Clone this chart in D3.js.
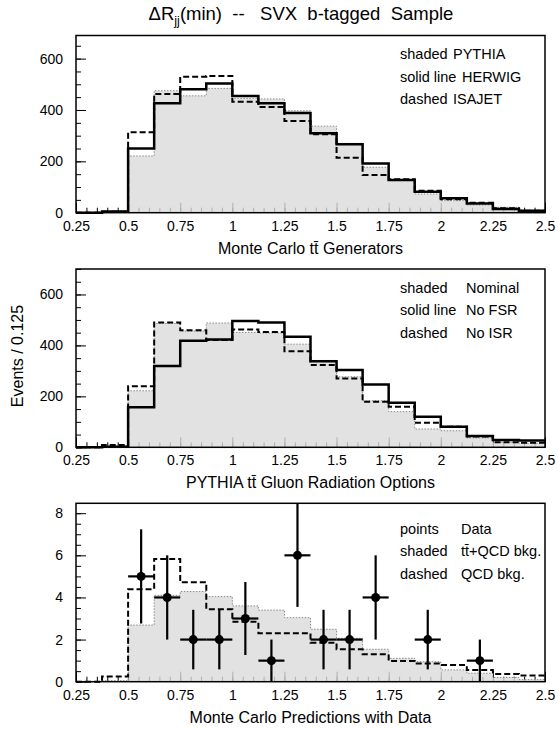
<!DOCTYPE html>
<html><head><meta charset="utf-8">
<script src="https://cdn.jsdelivr.net/npm/d3@7"></script>
<style>
body{margin:0;background:#fff}
svg{display:block}
text{font-family:"Liberation Sans",Arial,Helvetica,sans-serif;fill:#000}
</style>
</head><body>
<svg id="c" width="558" height="729"></svg>
<script>
// ---------- data ----------
const binEdges = [0.25,0.375,0.5,0.625,0.75,0.875,1.0,1.125,1.25,1.375,1.5,1.625,1.75,1.875,2.0,2.125,2.25,2.375,2.5];

// top panel: generators
const pythia = [0, 3, 221, 475, 455, 484, 445, 443, 397, 337, 270, 177, 127, 73, 47, 30, 21, 8];
const herwig = [0, 5, 250, 426, 481, 503, 454, 426, 388, 309, 267, 192, 127, 82, 56, 36, 14, 8];
const isajet = [0, 4, 313, 462, 529, 532, 432, 412, 357, 305, 214, 147, 130, 85, 52, 39, 17, 8];

// middle panel: gluon radiation options
const nominal = [0, 5, 222, 486, 456, 488, 451, 449, 405, 341, 277, 183, 140, 72, 65, 37, 20, 16];
const noFSR   = [0, 2, 157, 319, 418, 423, 496, 490, 434, 338, 303, 247, 175, 120, 81, 44, 29, 27];
const noISR   = [0, 9, 240, 490, 460, 421, 462, 453, 377, 323, 270, 179, 159, 96, 81, 42, 20, 18];

// bottom panel: predictions with data
const ttQCD = [0, 0.05, 2.69, 4.1, 4.28, 4.04, 3.6, 3.4, 3.04, 2.49, 2.06, 1.54, 1.11, 0.95, 0.56, 0.4, 0.2, 0.1];
const qcdBkg = [0, 0.25, 4.39, 5.83, 4.72, 3.44, 2.85, 2.3, 2.3, 1.85, 1.54, 1.3, 0.98, 0.87, 0.79, 0.56, 0.37, 0.29];
const dataX = [0.5625, 0.6875, 0.8125, 0.9375, 1.0625, 1.1875, 1.3125, 1.4375, 1.5625, 1.6875, 1.9375, 2.1875];
const dataN = [5, 4, 2, 2, 3, 1, 6, 2, 2, 4, 2, 1];

// ticks
const xMajor = [0.25,0.5,0.75,1,1.25,1.5,1.75,2,2.25,2.5];
const xMajorLabels = ["0.25","0.5","0.75","1","1.25","1.5","1.75","2","2.25","2.5"];
const yTicksEvents = [0,200,400,600];
const yTicksData = [0,2,4,6,8];

// ---------- drawing ----------
const svg = d3.select("#c");
const X0 = 76, X1 = 545;
const x = d3.scaleLinear().domain([0.25,2.5]).range([X0,X1]);
const xMinor = d3.range(0.25, 2.5001, 0.05);

const NB = "\u00a0";
const title = svg.append("text").attr("x",301).attr("y",20).attr("text-anchor","middle").attr("font-size",18.5);
title.append("tspan").text("ΔR");
title.append("tspan").attr("font-size",12.5).attr("dy",5).text("jj");
title.append("tspan").attr("dy",-5).text("(min)"+NB+NB+"--"+NB+NB+NB+"SVX"+NB+NB+"b-tagged"+NB+NB+"Sample");

function drawPanel(cfg){
  const y = d3.scaleLinear().domain([0,cfg.ymax]).range([cfg.bottom,cfg.top]);
  const g = svg.append("g");
  const yMinor = d3.range(0, cfg.ymax+1e-9, cfg.minor);

  // ticks (under fill)
  g.append("g").attr("transform",`translate(0,${cfg.bottom})`)
    .call(d3.axisBottom(x).tickValues(xMinor).tickSize(-5).tickFormat(""))
    .call(s=>s.select(".domain").remove());
  g.append("g").attr("transform",`translate(0,${cfg.bottom})`)
    .call(d3.axisBottom(x).tickValues(xMajor).tickSize(-10).tickPadding(8)
      .tickFormat((d,i)=>xMajorLabels[i]))
    .call(s=>s.select(".domain").remove())
    .call(s=>s.selectAll("text").attr("font-size",14).attr("font-family",null));
  g.append("g").attr("transform",`translate(${X0},0)`)
    .call(d3.axisLeft(y).tickValues(yMinor).tickSize(-5).tickFormat(""))
    .call(s=>s.select(".domain").remove());
  g.append("g").attr("transform",`translate(${X0},0)`)
    .call(d3.axisLeft(y).tickValues(cfg.yTicks).tickSize(-10).tickPadding(13))
    .call(s=>s.select(".domain").remove())
    .call(s=>s.selectAll("text").attr("font-size",14).attr("font-family",null));
  g.selectAll(".tick line").attr("stroke","#000").attr("stroke-width",1);

  const pts = v => v.map((d,i)=>[binEdges[i],d]).concat([[binEdges[v.length], v[v.length-1]]]);
  const area = d3.area().x(d=>x(d[0])).y0(y(0)).y1(d=>y(d[1])).curve(d3.curveStepAfter);
  const line = d3.line().x(d=>x(d[0])).y(d=>y(d[1])).curve(d3.curveStepAfter);

  g.append("path").attr("d",area(pts(cfg.shaded))).attr("fill","#dbdbdb").attr("fill-opacity",0.8);
  g.append("path").attr("d",line(pts(cfg.shaded))).attr("fill","none")
    .attr("stroke","#8a8a8a").attr("stroke-width",1).attr("stroke-dasharray","1.5,1.5");
  if(cfg.solid) g.append("path").attr("d",line(pts(cfg.solid))).attr("fill","none")
    .attr("stroke","#000").attr("stroke-width",2.5);
  g.append("path").attr("d",line(pts(cfg.dashed))).attr("fill","none")
    .attr("stroke","#000").attr("stroke-width",2).attr("stroke-dasharray","6,3");

  if(cfg.points){
    const pg = g.append("g");
    cfg.points.x.forEach((cx,i)=>{
      const n = cfg.points.n[i], e = Math.sqrt(n);
      pg.append("line").attr("x1",x(cx)).attr("x2",x(cx))
        .attr("y1",y(Math.max(0,n-e))).attr("y2",Math.max(cfg.top,y(n+e)))
        .attr("stroke","#000").attr("stroke-width",2.2);
      pg.append("line").attr("x1",x(cx-0.0625)).attr("x2",x(cx+0.0625))
        .attr("y1",y(n)).attr("y2",y(n)).attr("stroke","#000").attr("stroke-width",2.2);
      pg.append("circle").attr("cx",x(cx)).attr("cy",y(n)).attr("r",4.5).attr("fill","#000");
    });
  }

  // frame
  g.append("rect").attr("x",X0).attr("y",cfg.top).attr("width",X1-X0).attr("height",cfg.bottom-cfg.top)
    .attr("fill","none").attr("stroke","#000").attr("stroke-width",1.5);

  // legend
  cfg.legend.forEach((row,i)=>{
    const ty = cfg.legendY + i*22.5;
    g.append("text").attr("x",400).attr("y",ty).attr("font-size",14.5).text(row[0]);
    g.append("text").attr("x",row[2]).attr("y",ty).attr("font-size",14.5).text(row[1]);
  });

  // x title
  g.append("text").attr("x",(X0+X1)/2).attr("y",cfg.bottom+41).attr("text-anchor","middle")
    .attr("font-size",16).text(cfg.xTitle);
}

drawPanel({top:35.5, bottom:212.7, ymax:690, yTicks:yTicksEvents, minor:50,
  shaded:pythia, solid:herwig, dashed:isajet,
  legend:[["shaded","PYTHIA",453],["solid line","HERWIG",462],["dashed","ISAJET",453]], legendY:59,
  xTitle:"Monte Carlo tt\u0304 Generators"});
drawPanel({top:269, bottom:447.3, ymax:700, yTicks:yTicksEvents, minor:50,
  shaded:nominal, solid:noFSR, dashed:noISR,
  legend:[["shaded","Nominal",466],["solid line","No FSR",466],["dashed","No ISR",466]], legendY:292.5,
  xTitle:"PYTHIA tt\u0304 Gluon Radiation Options"});
drawPanel({top:503.3, bottom:681.7, ymax:8.47, yTicks:yTicksData, minor:0.5,
  shaded:ttQCD, solid:null, dashed:qcdBkg, points:{x:dataX,n:dataN},
  legend:[["points","Data",461],["shaded","tt\u0304+QCD bkg.",461],["dashed","QCD bkg.",461]], legendY:533.5,
  xTitle:"Monte Carlo Predictions with Data"});

svg.append("text").attr("transform","translate(23,356) rotate(-90)").attr("text-anchor","middle")
  .attr("font-size",16).text("Events / 0.125");
</script>
</body></html>
